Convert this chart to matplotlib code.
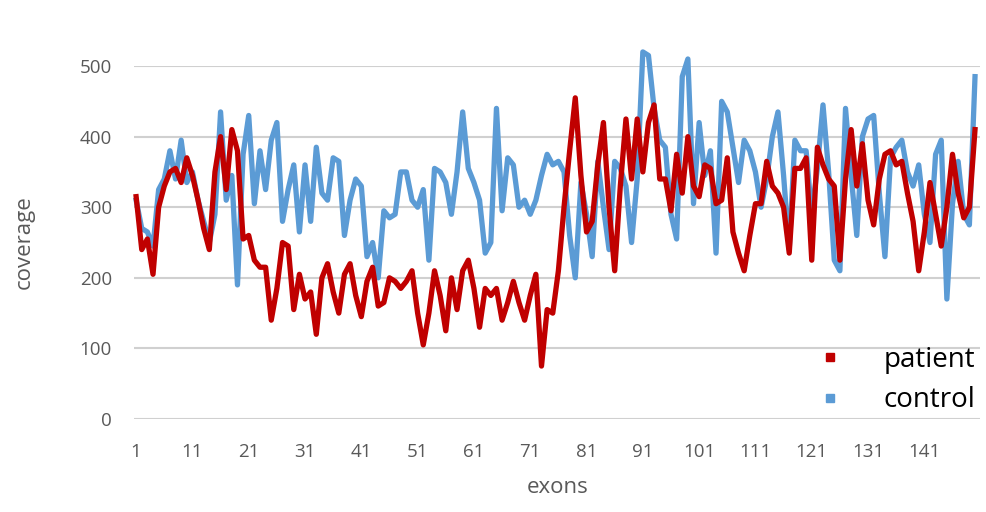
import numpy as np
from matplotlib import pyplot as plt
from matplotlib.lines import Line2D

exons = np.arange(1, 151)

patient = [315, 240, 255, 205, 300, 330, 350, 355, 335, 370,
           345, 310, 270, 240, 350, 400, 325, 410, 380, 255,
           260, 225, 215, 215, 140, 185, 250, 245, 155, 205,
           170, 180, 120, 200, 220, 180, 150, 205, 220, 175,
           145, 195, 215, 160, 165, 200, 195, 185, 195, 210,
           150, 105, 150, 210, 175, 125, 200, 155, 210, 225,
           185, 130, 185, 175, 185, 140, 165, 195, 165, 140,
           175, 205, 75, 155, 150, 210, 300, 380, 455, 345,
           265, 280, 360, 420, 300, 210, 330, 425, 340, 425,
           350, 420, 445, 340, 340, 295, 375, 320, 400, 330,
           315, 360, 355, 305, 310, 370, 265, 235, 210, 260,
           305, 305, 365, 330, 320, 300, 235, 355, 355, 370,
           225, 385, 360, 340, 330, 225, 340, 410, 330, 390,
           310, 275, 340, 375, 380, 360, 365, 320, 280, 210,
           265, 335, 290, 245, 300, 375, 320, 285, 300, 410]

control = [310, 270, 265, 245, 325, 340, 380, 340, 395, 335,
           350, 310, 280, 250, 290, 435, 310, 345, 190, 375,
           430, 305, 380, 325, 395, 420, 280, 325, 360, 265,
           360, 280, 385, 320, 310, 370, 365, 260, 310, 340,
           330, 230, 250, 200, 295, 285, 290, 350, 350, 310,
           300, 325, 225, 355, 350, 335, 290, 350, 435, 355,
           335, 310, 235, 250, 440, 295, 370, 360, 300, 310,
           290, 310, 345, 375, 360, 365, 350, 260, 200, 335,
           290, 230, 365, 300, 240, 365, 355, 330, 250, 340,
           520, 515, 440, 395, 385, 290, 255, 485, 510, 305,
           420, 345, 380, 235, 450, 435, 385, 335, 395, 380,
           350, 300, 340, 400, 435, 345, 240, 395, 380, 380,
           290, 355, 445, 350, 225, 210, 440, 345, 260, 400,
           425, 430, 320, 230, 370, 385, 395, 350, 330, 360,
           290, 250, 375, 395, 170, 305, 365, 290, 275, 485]

xticks = np.arange(1, 150, 10)
yticks = [0, 100, 200, 300, 400, 500]

red = '#C00000'
blue = '#5B9BD5'
grey = '#595959'

plt.rcParams['font.family'] = ['Open Sans', 'DejaVu Sans']

fig = plt.figure(figsize=(9.86, 5.12), dpi=100)
ax = fig.add_axes([0.136, 0.1816, 0.858, 0.6894])

ax.plot(exons, control, color=blue, linewidth=3.8, clip_on=False,
        solid_joinstyle='round', zorder=3)
ax.plot(exons, patient, color=red, linewidth=3.8, clip_on=False,
        solid_joinstyle='round', zorder=4)

ax.set_xlim(0.64, 150.9)
ax.set_ylim(0, 500)
ax.set_yticks(yticks)
ax.set_xticks(xticks)
ax.yaxis.grid(True, color='#D0D0D0', linewidth=1.5)
ax.set_axisbelow(True)
for s in ax.spines.values():
    s.set_visible(False)
ax.tick_params(length=0, labelsize=13.5, colors=grey)
ax.tick_params(axis='x', pad=17)
ax.tick_params(axis='y', pad=16)

ax.set_xlabel('exons', fontsize=16, color=grey)
ax.set_ylabel('coverage', fontsize=16, color=grey)
ax.xaxis.set_label_coords(0.501, -0.165)
ax.yaxis.set_label_coords(-0.118, 0.5)

handles = [Line2D([], [], marker='s', linestyle='none', color=red, markersize=6),
           Line2D([], [], marker='s', linestyle='none', color=blue, markersize=6)]
ax.legend(handles, ['patient', 'control'], loc='lower right',
          bbox_to_anchor=(0.995, 0.013), frameon=False, fontsize=20,
          handlelength=2.0, handletextpad=0.95, labelspacing=0.45,
          borderaxespad=0.0, borderpad=0.0)

fig.savefig('out.png', dpi=100)
